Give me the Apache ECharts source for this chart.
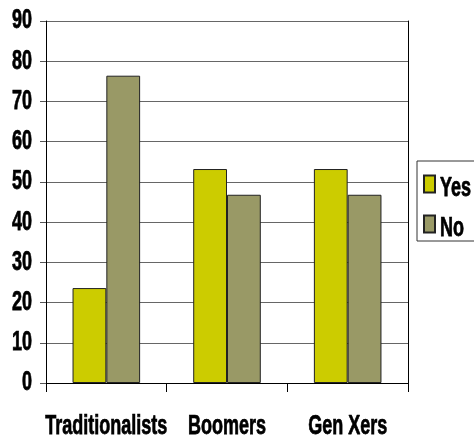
<!DOCTYPE html>
<html>
<head>
<meta charset="utf-8">
<script src="https://cdn.jsdelivr.net/npm/echarts@6/dist/echarts.min.js"></script>
<style>html,body{margin:0;padding:0;background:#fff;}#c{width:474px;height:438px;}</style>
</head>
<body>
<div id="c"></div>
<script>
const categories = ['Traditionalists', 'Boomers', 'Gen Xers'];
const yesValues = [23.6, 53.2, 53.2];
const noValues = [76.4, 46.8, 46.8];
const yTicks = { min: 0, max: 90, interval: 10 };

const FONT = "'Liberation Sans', Arial, sans-serif";
const FS = 18;
const STRETCH = 1.5;
const TXT = { fontFamily: FONT, fontSize: FS, fontWeight: 'bold', color: '#000', textBorderColor: '#000', textBorderWidth: 0.5 };
const chart = echarts.init(document.getElementById('c'), null, { renderer: 'canvas' });
chart.setOption({
  animation: false,
  backgroundColor: '#fff',
  grid: { left: 46, right: 66, top: 21, bottom: 55, containLabel: false },
  legend: {
    data: ['Yes', 'No'],
    orient: 'vertical',
    left: 417, top: 161,
    padding: [12, 4, 6, 6],
    itemGap: 18,
    itemWidth: 11, itemHeight: 17,
    borderColor: '#333', borderWidth: 1,
    icon: 'rect',
    textStyle: Object.assign({ lineHeight: 22 }, TXT)
  },
  xAxis: {
    type: 'category',
    data: categories,
    axisLine: { lineStyle: { color: '#000', width: 1 } },
    axisTick: { show: true, length: 9, interval: 0, lineStyle: { color: '#000' } },
    axisLabel: Object.assign({ interval: 0, margin: 30 }, TXT),
    splitLine: { show: false }
  },
  yAxis: [{
    type: 'value',
    min: yTicks.min, max: yTicks.max, interval: yTicks.interval,
    axisLine: { show: true, lineStyle: { color: '#000', width: 1 } },
    axisTick: { show: true, length: 6, lineStyle: { color: '#555' } },
    axisLabel: Object.assign({ margin: 14 }, TXT),
    splitLine: { show: true, lineStyle: { color: '#666', width: 1 } }
  }, {
    type: 'value', position: 'right',
    min: yTicks.min, max: yTicks.max, interval: yTicks.interval,
    axisLine: { show: true, lineStyle: { color: '#000', width: 1 } },
    axisTick: { show: false }, axisLabel: { show: false }, splitLine: { show: false }
  }],
  series: [{
    name: 'Yes', type: 'bar', data: yesValues,
    barGap: '0%', barCategoryGap: '44%',
    itemStyle: { color: '#CCCC00', borderColor: '#222', borderWidth: 1 }
  }, {
    name: 'No', type: 'bar', data: noValues,
    barGap: '0%', barCategoryGap: '44%',
    itemStyle: { color: '#999966', borderColor: '#222', borderWidth: 1 }
  }]
});

// The reference typeface is tall and narrow: stretch the rendered text vertically.
function stretchTexts() {
  const zr = chart.getZr();
  zr.storage.getRoots().forEach(function (root) {
    const visit = function (el) {
      if (el.type === 'text' && !el.__stretched) {
        el.scaleY = STRETCH;
        el.__stretched = true;
        el.markRedraw && el.markRedraw();
      }
    };
    visit(root);
    if (root.traverse) root.traverse(visit);
  });
  zr.refreshImmediately();
}
stretchTexts();
</script>
</body>
</html>
